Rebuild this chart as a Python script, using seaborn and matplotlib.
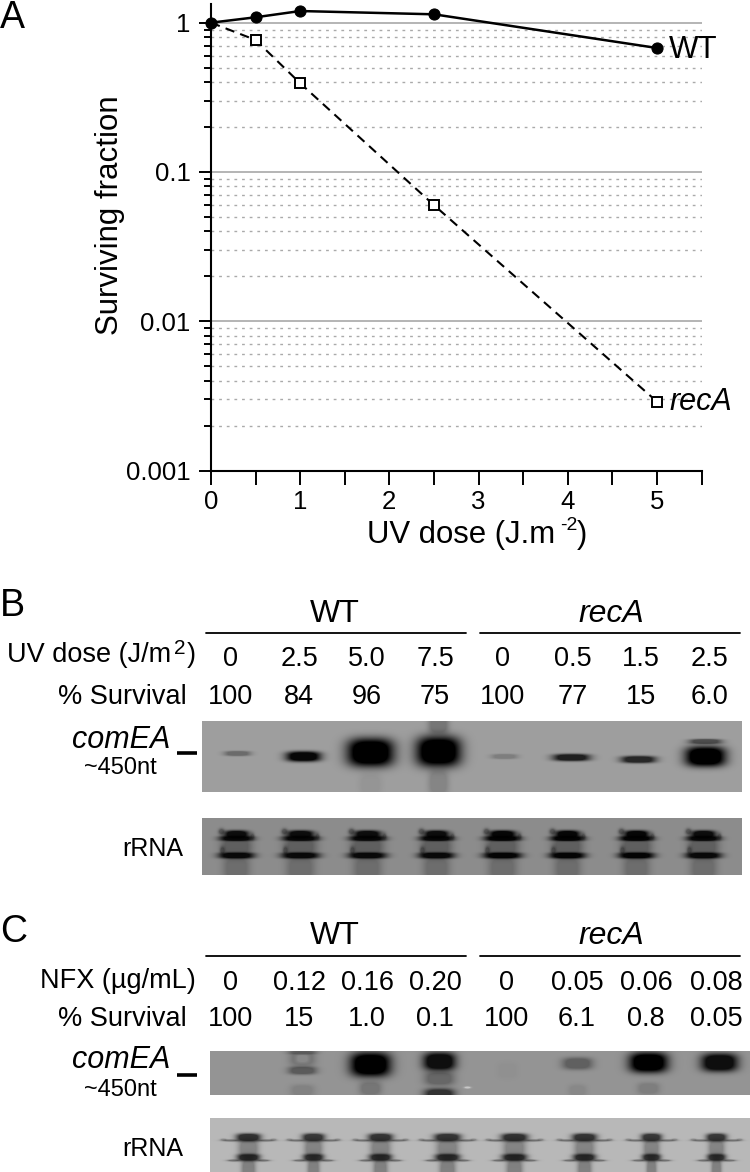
import numpy as np
import pandas as pd
import seaborn as sns
import matplotlib.pyplot as plt

W, H = 750, 1172
FONT = "Liberation Sans"

# panel A values
dose = [0, 0.5, 1, 2.5, 5]
wt_surv = [1, 1.087, 1.197, 1.138, 0.677]
reca_surv = [1, 0.766, 0.393, 0.060, 0.0029]
y_major = [1, 0.1, 0.01, 0.001]
y_major_labels = ["1", "0.1", "0.01", "0.001"]
x_ticks = [0, 0.5, 1, 1.5, 2, 2.5, 3, 3.5, 4, 4.5, 5, 5.5]
x_tick_labels = ["0", "", "1", "", "2", "", "3", "", "4", "", "5", ""]

# panel B and C table rows
uv_dose = ["0", "2.5", "5.0", "7.5", "0", "0.5", "1.5", "2.5"]
uv_survival = ["100", "84", "96", "75", "100", "77", "15", "6.0"]
nfx_dose = ["0", "0.12", "0.16", "0.20", "0", "0.05", "0.06", "0.08"]
nfx_survival = ["100", "15", "1.0", "0.1", "100", "6.1", "0.8", "0.05"]

# band darkness per lane (0 = nothing, 1 = black)
uv_comea = [0.32, 0.95, 1, 1, 0.2, 0.8, 0.75, 1]
nfx_comea = [0, 0.38, 1, 0.9, 0.03, 0.35, 1, 0.9]
uv_rrna = [0.9, 0.9, 0.9, 0.9, 0.95, 0.95, 0.95, 0.9]
nfx_rrna = [0.72, 0.68, 0.7, 0.7, 0.72, 0.7, 0.68, 0.68]

# lane layout in pixels: x centre, half width, y centre, half height
UV_COMEA_BOX = [(237, 13, 753, 2.5), (303, 17, 756, 5), (370, 23, 752, 14), (438, 22, 751, 15),
                (504, 13, 756, 2.5), (571, 18, 757, 3.5), (638, 17, 759, 3.5), (705, 20, 756, 10)]
NFX_COMEA_BOX = [(270, 10, 1070, 6), (302, 14, 1070, 4), (370, 20, 1064, 12), (439, 16, 1061, 9),
                 (507, 10, 1070, 8), (577, 15, 1063, 6), (648, 19, 1062, 10), (719, 18, 1062, 9)]
UV_RRNA_X = [236, 300, 367, 436, 502, 567, 636, 703]
NFX_RRNA_X = [248, 313, 380, 447, 514, 584, 651, 716]
UV_WIDTH = [16, 17, 17, 16, 17, 16, 16, 16]
NFX_WIDTH = [12, 11, 12, 13, 13, 12, 10, 10]


def add_band(img, x0, y0, cx, cy, hw, hh, dark, power=3):
    yy, xx = np.mgrid[0:img.shape[0], 0:img.shape[1]]
    dx = np.abs((xx + x0 - cx) / hw)
    dy = np.abs((yy + y0 - cy) / hh)
    shape = np.clip(1.5 * np.exp(-(dx ** power + dy ** power)), 0, 1)
    img *= 1 - dark * shape


def pixel_axes(fig, left, top, right, bottom):
    return fig.add_axes([left / W, 1 - bottom / H, (right - left) / W, (bottom - top) / H])


def draw_gel(fig, img, left, top):
    h, w = img.shape
    ax = pixel_axes(fig, left, top, left + w, top + h)
    sns.heatmap(np.clip(img, 0, 1), ax=ax, cmap="gray", vmin=0, vmax=1, cbar=False,
                xticklabels=False, yticklabels=False, rasterized=True)
    return ax


def comea_gel(bg, left, top, right, bottom, boxes, strength):
    img = np.full((bottom - top, right - left), bg, dtype=float)
    for (cx, hw, cy, hh), d in zip(boxes, strength):
        add_band(img, left, top, cx, cy, hw, hh, d)
    return img


def draw_panel_a(fig):
    ax = pixel_axes(fig, 211, 4, 701.5, 470.6)
    minor = [m * 10.0 ** e for e in (-3, -2, -1) for m in range(2, 10)]
    ax.set_yscale("log")
    ax.set_xlim(0, 5.5)
    ax.set_ylim(0.001, 1.334)
    ax.set_xticks(x_ticks)
    ax.set_xticklabels(x_tick_labels, fontsize=18.5, family=FONT, color="black")
    ax.set_yticks(y_major)
    ax.set_yticklabels(y_major_labels, fontsize=18.5, family=FONT, color="black")
    ax.set_yticks(minor, minor=True)
    ax.set_yticklabels([], minor=True)
    ax.grid(False)
    ax.grid(True, which="major", axis="y", color="#a0a0a0", lw=1.1)
    ax.grid(True, which="minor", axis="y", color="#aaaaaa", lw=1, ls=(0, (2, 3.5)))
    ax.tick_params(axis="x", bottom=True, length=10, width=1.4, pad=4, color="black")
    ax.tick_params(axis="y", which="major", left=True, length=8.6, width=1.4, pad=6, color="black")
    ax.tick_params(axis="y", which="minor", left=True, length=5, width=1.4, color="black")
    for side in ["top", "right"]:
        ax.spines[side].set_visible(False)
    for side in ["left", "bottom"]:
        ax.spines[side].set_linewidth(1.5)
        ax.spines[side].set_color("black")

    df = pd.DataFrame({"dose": dose, "wt": wt_surv, "reca": reca_surv})
    # first recA point sits behind the WT circle
    sns.lineplot(data=df, x="dose", y="reca", ax=ax, color="black", lw=1.5, linestyle=(0, (4.5, 3)),
                 marker="s", ms=6.5, mfc="white", mec="black", mew=1.4, markevery=[1, 2, 3, 4],
                 clip_on=False, zorder=4)
    sns.lineplot(data=df, x="dose", y="wt", ax=ax, color="black", lw=1.8,
                 marker="o", ms=8, mfc="black", mec="black", clip_on=False, zorder=5)
    ax.set_xlabel("")
    ax.set_ylabel("")


def uv_rrna_gel():
    left, top = 202, 818
    img = np.full((875 - top, 742 - left), 0.55)
    for cx, hw, d in zip(UV_RRNA_X, UV_WIDTH, uv_rrna):
        add_band(img, left, top, cx, 846, hw - 1, 11, 0.32)
        add_band(img, left, top, cx, 868, hw - 3, 13, 0.22)
        add_band(img, left, top, cx, 834, hw - 4, 4, d)
        add_band(img, left, top, cx, 838, hw, 2.5, d)
        add_band(img, left, top, cx - hw + 1, 831, 3, 3, 0.35, power=2)
        add_band(img, left, top, cx + hw, 836, 2, 3, 0.3, power=2)
        add_band(img, left, top, cx, 855, hw + 1, 3, d)
        add_band(img, left, top, cx - hw + 2, 850, 2.5, 4, 0.35, power=2)
    return img, left, top


def nfx_rrna_gel():
    left, top = 210, 1118
    img = np.full((1172 - top, 750 - left), 0.72)
    for cx, hw, d in zip(NFX_RRNA_X, NFX_WIDTH, nfx_rrna):
        add_band(img, left, top, cx, 1148, hw - 2, 10, 0.28)
        add_band(img, left, top, cx, 1170, hw - 5, 14, 0.3)
        for side in (-1, 1):
            add_band(img, left, top, cx + side * (hw + 6), 1140, 8, 1, 0.38, power=2)
            add_band(img, left, top, cx + side * (hw + 13), 1139, 3, 1, 0.2, power=2)
            add_band(img, left, top, cx + side * (hw + 3), 1160, 6, 1, 0.38, power=2)
        add_band(img, left, top, cx, 1137, hw, 4, d)
        add_band(img, left, top, cx, 1157, hw - 1, 3.5, d)
    return img, left, top


def main():
    sns.set_theme(style="white")
    plt.rcParams["font.family"] = [FONT, "DejaVu Sans"]
    fig = plt.figure(figsize=(W / 100, H / 100), dpi=100, facecolor="white")

    draw_panel_a(fig)

    # panel B gels
    img = comea_gel(0.62, 202, 721, 742, 792, UV_COMEA_BOX, uv_comea)
    add_band(img, 202, 721, 705, 741, 16, 2.5, 0.5)
    add_band(img, 202, 721, 438, 724, 10, 10, 0.25)
    add_band(img, 202, 721, 438, 782, 10, 14, 0.16)
    add_band(img, 202, 721, 370, 784, 11, 12, 0.06)
    draw_gel(fig, img, 202, 721)

    img, left, top = uv_rrna_gel()
    draw_gel(fig, img, left, top)

    # panel C gels
    img = comea_gel(0.58, 210, 1051, 750, 1095, NFX_COMEA_BOX, nfx_comea)
    add_band(img, 210, 1051, 302, 1058, 13, 8, 0.2)
    add_band(img, 210, 1051, 302, 1052, 14, 2, 0.25)
    add_band(img, 210, 1051, 302, 1058, 6, 4, -0.15)
    add_band(img, 210, 1051, 302, 1090, 12, 6, 0.12)
    add_band(img, 210, 1051, 370, 1088, 11, 7, 0.2)
    add_band(img, 210, 1051, 439, 1078, 15, 7, 0.3)
    add_band(img, 210, 1051, 439, 1094, 15, 6, 0.65)
    add_band(img, 210, 1051, 577, 1090, 9, 6, 0.08)
    add_band(img, 210, 1051, 648, 1088, 11, 6, 0.15)
    add_band(img, 210, 1051, 467, 1087, 3, 1, -0.35, power=2)
    draw_gel(fig, img, 210, 1051)

    img, left, top = nfx_rrna_gel()
    draw_gel(fig, img, left, top)

    # overlay in image pixels for the free text and rules
    page = fig.add_axes([0, 0, 1, 1], facecolor="none")
    page.set_xlim(0, W)
    page.set_ylim(H, 0)
    page.axis("off")

    def label(x, y, s, size=19.5, ha="center", style="normal", **kw):
        # va=center sits a little high on the glyphs
        page.text(x, y + 1.5, s, fontsize=size, ha=ha, va="center", style=style, color="black", **kw)

    label(0, 17, "A", 27, ha="left")
    label(0, 605, "B", 27, ha="left")
    label(0, 930, "C", 27, ha="left")

    page.text(110, 215, "Surviving fraction", fontsize=22.5, rotation=90, ha="center", va="center", color="black")
    label(669, 49, "WT", 22.5, ha="left")
    label(669, 400, "recA", 22, ha="left", style="italic")
    label(367, 533, "UV dose (J.m", 22.4, ha="left")
    label(560, 524, "-2", 14, ha="left")
    label(577, 533, ")", 22.4, ha="left")

    # header rows
    for y_head, y_line in [(613, 633), (935, 956)]:
        label(335, y_head, "WT", 23)
        label(611, y_head, "recA", 23, style="italic")
        page.plot([206, 466], [y_line, y_line], color="black", lw=1.3)
        page.plot([480, 740], [y_line, y_line], color="black", lw=1.3)

    uv_x = [230, 299, 367, 435, 503, 573, 641, 709]
    nfx_x = [230, 299, 367, 435, 507, 577, 646, 716]
    for x, a, b in zip(uv_x, uv_dose, uv_survival):
        label(x, 658, a)
        label(x, 696, b)
    for x, a, b in zip(nfx_x, nfx_dose, nfx_survival):
        label(x, 982, a)
        label(x, 1018, b)

    label(7, 653, "UV dose (J/m", ha="left")
    label(174, 647, "2", 15, ha="left")
    label(187, 653, ")", ha="left")
    label(187, 696, "% Survival", ha="right")
    label(196, 980, "NFX (µg/mL)", ha="right")
    label(187, 1018, "% Survival", ha="right")

    for y_gene, y_size, y_dash, y_rrna in [(739, 767, 753, 847), (1059, 1089, 1075, 1147)]:
        label(170, y_gene, "comEA", 22, ha="right", style="italic")
        label(157, y_size, "~450nt", 17, ha="right")
        page.plot([177, 197], [y_dash, y_dash], color="black", lw=2.6, solid_capstyle="butt")
        label(183, y_rrna, "rRNA", 18, ha="right")

    fig.savefig("out.png", dpi=100)


if __name__ == "__main__":
    main()
